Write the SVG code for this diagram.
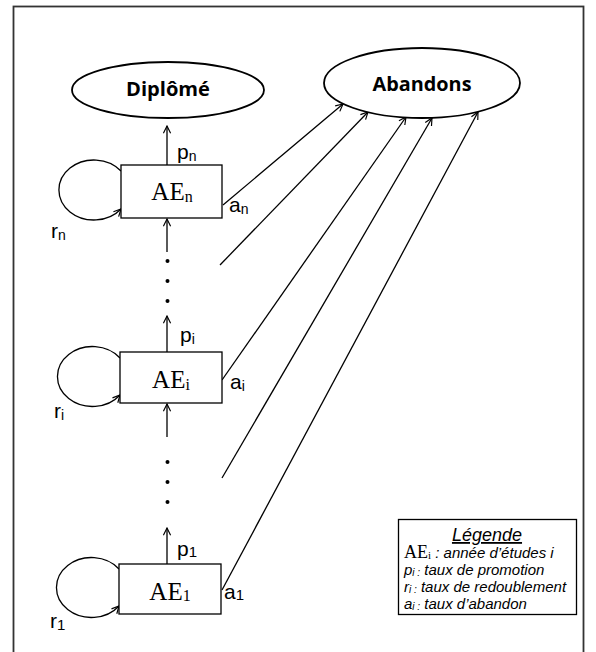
<svg xmlns="http://www.w3.org/2000/svg" width="596" height="652" viewBox="0 0 596 652">
<defs>
<marker id="ah" viewBox="0 0 10 10" markerWidth="9" markerHeight="9" refX="9" refY="5" orient="auto" markerUnits="userSpaceOnUse">
<path d="M1,1 L9,5 L1,9" fill="none" stroke="#000" stroke-width="1.3"/>
</marker>
<style>
.ln{fill:none;stroke:#000;stroke-width:1.3}
.bx{fill:#fff;stroke:#000;stroke-width:1.3}
.el{fill:#fff;stroke:#000;stroke-width:1.8}
.ae{font-family:"Liberation Serif","Times New Roman",serif;font-size:25px}
.sb{font-family:"Liberation Serif","Times New Roman",serif;font-size:16px}
.lb{font-family:"Liberation Sans",Arial,sans-serif;font-size:21px}
.ls{font-size:14px}
.tt{font-family:"Open Sans","Liberation Sans",sans-serif;font-weight:bold;font-size:19px}
.lg{font-family:"Liberation Sans",Arial,sans-serif;font-style:italic;font-size:15px}
</style>
</defs>
<rect x="13.5" y="6.5" width="570" height="680" fill="#fff" stroke="#333" stroke-width="1.8"/>

<g id="connectors">
<path class="ln" marker-end="url(#ah)" d="M167,165 L167,126"/>
<path class="ln" marker-end="url(#ah)" d="M167,252 L167,219"/>
<path class="ln" marker-end="url(#ah)" d="M167,352 L167,316"/>
<path class="ln" marker-end="url(#ah)" d="M167,437 L167,404"/>
<path class="ln" marker-end="url(#ah)" d="M167,564 L167,528"/>
<path class="ln" marker-end="url(#ah)" d="M121,171 A35,30 0 1 0 121,209"/>
<path class="ln" marker-end="url(#ah)" d="M120,358 A35,30 0 1 0 120,395"/>
<path class="ln" marker-end="url(#ah)" d="M119,569 A35,30 0 1 0 119,606"/>
<path class="ln" marker-end="url(#ah)" d="M223,205 L343,104"/>
<path class="ln" marker-end="url(#ah)" d="M220,265 L368,112"/>
<path class="ln" marker-end="url(#ah)" d="M222,380 L406,117"/>
<path class="ln" marker-end="url(#ah)" d="M222,478 L432,118"/>
<path class="ln" marker-end="url(#ah)" d="M222,590 L478,112"/>
<g fill="#000">
<circle cx="167.5" cy="261" r="2"/><circle cx="167.5" cy="281" r="2"/><circle cx="167.5" cy="301" r="2"/>
<circle cx="167.5" cy="462" r="2"/><circle cx="167.5" cy="482" r="2"/><circle cx="167.5" cy="502" r="2"/>
</g>
</g>

<g id="diplome">
<ellipse class="el" cx="168" cy="90" rx="96" ry="28"/>
<text class="tt" x="168" y="96" text-anchor="middle" textLength="84" lengthAdjust="spacingAndGlyphs">Diplômé</text>
</g>
<g id="abandons">
<ellipse class="el" cx="422" cy="83" rx="98" ry="35"/>
<text class="tt" x="422" y="91" text-anchor="middle" textLength="99" lengthAdjust="spacingAndGlyphs">Abandons</text>
</g>

<g id="ae-n">
<rect class="bx" x="121" y="165" width="101" height="53"/>
<text class="ae" x="172" y="200" text-anchor="middle">AE<tspan class="sb" dy="2">n</tspan></text>
</g>
<g id="ae-i">
<rect class="bx" x="120" y="352" width="102" height="51"/>
<text class="ae" x="171" y="388" text-anchor="middle">AE<tspan class="sb" dy="2">i</tspan></text>
</g>
<g id="ae-1">
<rect class="bx" x="119" y="564" width="102" height="50"/>
<text class="ae" x="170" y="600" text-anchor="middle">AE<tspan class="sb" dy="1">1</tspan></text>
</g>

<g id="labels" class="lb">
<text x="177" y="159">p<tspan class="ls" dy="2">n</tspan></text>
<text x="229" y="212">a<tspan class="ls" dy="2">n</tspan></text>
<text x="51" y="238">r<tspan class="ls" dy="2">n</tspan></text>
<text x="180" y="342">p<tspan class="ls" dy="2">i</tspan></text>
<text x="230" y="389">a<tspan class="ls" dy="2">i</tspan></text>
<text x="54" y="418">r<tspan class="ls" dy="2">i</tspan></text>
<text x="177" y="556">p<tspan class="ls" style="font-size:15px" dy="1">1</tspan></text>
<text x="224" y="599">a<tspan class="ls" style="font-size:15px" dy="1">1</tspan></text>
<text x="50" y="628">r<tspan class="ls" style="font-size:15px" dy="2">1</tspan></text>
</g>

<g id="legende">
<rect x="398.5" y="519.5" width="178" height="95" fill="#fff" stroke="#000" stroke-width="1.3"/>
<text class="lg" x="487" y="541" text-anchor="middle" text-decoration="underline" style="font-size:18px">Légende</text>
<text class="lg" x="404" y="558"><tspan class="ae" style="font-size:18px;font-style:normal">AE</tspan><tspan class="sb" style="font-size:11px;font-style:normal" dy="1">i</tspan><tspan dy="-1"> : année d’études i</tspan></text>
<text class="lg" x="404" y="575">p<tspan style="font-size:10px" dy="1">i :</tspan><tspan dy="-1"> taux de promotion</tspan></text>
<text class="lg" x="404" y="592">r<tspan style="font-size:10px" dy="1">i :</tspan><tspan dy="-1"> taux de redoublement</tspan></text>
<text class="lg" x="404" y="609">a<tspan style="font-size:10px" dy="1">i :</tspan><tspan dy="-1"> taux d’abandon</tspan></text>
</g>
</svg>
